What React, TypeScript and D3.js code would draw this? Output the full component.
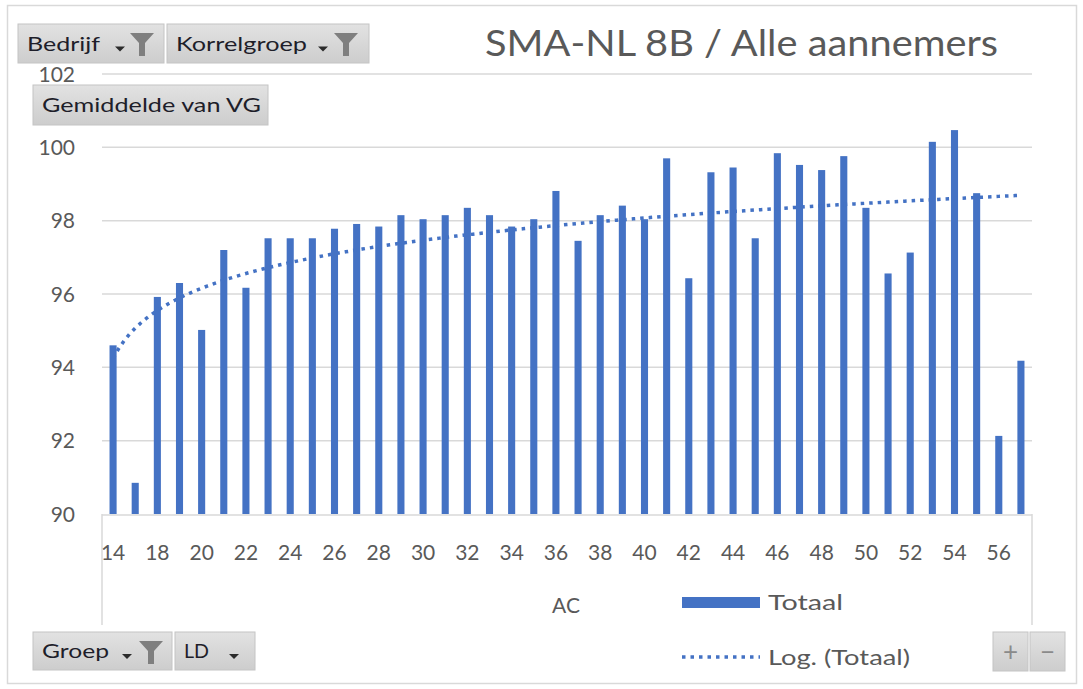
import React from "react";
import * as d3 from "d3";

const categories: string[] = [
  "14", "16", "18", "19", "20", "21", "22", "23", "24", "25", "26", "27", "28", "29",
  "30", "31", "32", "33", "34", "35", "36", "37", "38", "39", "40", "41", "42", "43",
  "44", "45", "46", "47", "48", "49", "50", "51", "52", "53", "54", "55", "56", "57",
];
const totaal: number[] = [
  94.6, 90.85, 95.92, 96.3, 95.02, 97.2, 96.17, 97.52, 97.52, 97.52, 97.78, 97.91, 97.84, 98.15,
  98.04, 98.15, 98.35, 98.15, 97.84, 98.04, 98.81, 97.45, 98.15, 98.41, 98.04, 99.7, 96.43, 99.32,
  99.45, 97.52, 99.84, 99.52, 99.38, 99.76, 98.35, 96.56, 97.13, 100.15, 100.47, 98.75, 92.13, 94.18,
];
const yTicks: number[] = [90, 92, 94, 96, 98, 100, 102];
const title = "SMA-NL 8B / Alle aannemers";
const axisTitle = "AC";
const legendBar = "Totaal";
const legendTrend = "Log. (Totaal)";

const FONT = "Lato, 'Liberation Sans', sans-serif";
const BLUE = "#4472C4";
const GRID = "#d9d9d9";
const TXT = "#595959";

function logFit(vals: number[]) {
  const xs = vals.map((_, i) => Math.log(i + 1));
  const mx = d3.mean(xs) as number;
  const my = d3.mean(vals) as number;
  let num = 0, den = 0;
  xs.forEach((x, i) => { num += (x - mx) * (vals[i] - my); den += (x - mx) * (x - mx); });
  const a = num / den;
  const b = my - a * mx;
  return (k: number) => a * Math.log(k) + b;
}

function Button({ x, y, w, h, label, textW, arrow, funnel }: any) {
  return (
    <g>
      <rect x={x} y={y} width={w} height={h} fill="url(#btnGrad)" stroke="#c4c4c4" strokeWidth={1} />
      <text x={x + 9} y={y + h / 2} dy="0.36em" fontSize={20} fill="#1e1e2a" fontFamily={FONT}
        textLength={textW} lengthAdjust="spacingAndGlyphs">{label}</text>
      {arrow !== undefined && (
        <path d={`M${arrow},${y + h / 2 + 3} h10 l-5,5 z`} fill="#2b2b2b" />
      )}
      {funnel !== undefined && (
        <path d={`M${funnel},${y + 9} h24 l-9,10 v13 h-6 v-13 z`} fill="#7f7f7f" />
      )}
    </g>
  );
}

export default function App() {
  const left = 102, right = 1032, top = 74, bottom = 514;
  const x = d3.scaleBand<string>().domain(categories).range([left, right]).paddingInner(0.68).paddingOuter(0.34);
  const y = d3.scaleLinear().domain([90, 102]).range([bottom, top]);
  const fit = logFit(totaal);
  const step = x.step();
  const xc = (k: number) => (x(categories[0]) as number) + x.bandwidth() / 2 + (k - 1) * step;
  const trendPts: [number, number][] = d3.range(1, categories.length + 0.001, 0.25).map((k) => [xc(k), y(fit(k))]);
  const line = d3.line<[number, number]>().x((d) => d[0]).y((d) => d[1]).curve(d3.curveLinear);

  return (
    <svg width={1083} height={689} style={{ position: "absolute", left: 0, top: 0, background: "#fff" }}>
      <defs>
        <linearGradient id="btnGrad" x1="0" y1="0" x2="0" y2="1">
          <stop offset="0" stopColor="#e2e2e2" />
          <stop offset="1" stopColor="#cdcdcd" />
        </linearGradient>
      </defs>
      <rect x={0} y={0} width={1083} height={689} fill="#fff" />
      <rect x={7.5} y={5.5} width={1069} height={678} fill="none" stroke={GRID} strokeWidth={1.5} />

      {/* gridlines */}
      {yTicks.filter((t) => t > 90).map((t) => (
        <line key={t} x1={left} x2={right} y1={y(t)} y2={y(t)} stroke={GRID} strokeWidth={1.5} />
      ))}
      {/* y tick labels */}
      {yTicks.map((t) => (
        <text key={t} x={75} y={y(t)} dy="0.36em" textAnchor="end" fontSize={21} fill={TXT} fontFamily={FONT}>{t}</text>
      ))}

      {/* bars */}
      {categories.map((c, i) => (
        <rect key={c} x={x(c)} y={y(totaal[i])} width={x.bandwidth()} height={y(90) - y(totaal[i])} fill={BLUE} />
      ))}

      {/* axis box */}
      <line x1={left} x2={right} y1={bottom + 1} y2={bottom + 1} stroke={GRID} strokeWidth={1.5} />
      <line x1={left} x2={left} y1={bottom} y2={625} stroke={GRID} strokeWidth={1.5} />
      <line x1={right} x2={right} y1={bottom} y2={625} stroke={GRID} strokeWidth={1.5} />

      {/* trendline */}
      <path d={line(trendPts) as string} fill="none" stroke={BLUE} strokeWidth={3.5} strokeDasharray="3.5 5" />

      {/* x tick labels */}
      {categories.map((c, i) => (i % 2 === 0 ? (
        <text key={c} x={(x(c) as number) + x.bandwidth() / 2} y={552} dy="0.36em" textAnchor="middle" fontSize={21} fill={TXT} fontFamily={FONT}>{c}</text>
      ) : null))}

      {/* axis title */}
      <text x={566} y={605} dy="0.36em" textAnchor="middle" fontSize={21} fill={TXT} fontFamily={FONT}>{axisTitle}</text>

      {/* title */}
      <text x={485} y={56} fontSize={37} fill={TXT} fontFamily={FONT} textLength={513} lengthAdjust="spacingAndGlyphs">{title}</text>

      {/* legend */}
      <rect x={682} y={597} width={78} height={11} fill={BLUE} />
      <text x={768} y={602} dy="0.36em" fontSize={21} fill={TXT} fontFamily={FONT} textLength={75} lengthAdjust="spacingAndGlyphs">{legendBar}</text>
      <line x1={682} x2={760} y1={657} y2={657} stroke={BLUE} strokeWidth={3.5} strokeDasharray="3.5 5" />
      <text x={768} y={657} dy="0.36em" fontSize={21} fill={TXT} fontFamily={FONT} textLength={142} lengthAdjust="spacingAndGlyphs">{legendTrend}</text>

      {/* field buttons */}
      <Button x={18} y={24} w={146} h={39} label="Bedrijf" textW={73} arrow={115} funnel={130} />
      <Button x={167} y={24} w={202} h={39} label="Korrelgroep" textW={131} arrow={318} funnel={334} />
      <Button x={33} y={85} w={235} h={40} label="Gemiddelde van VG" textW={219} />
      <Button x={33} y={632} w={139} h={38} label="Groep" textW={67} arrow={122} funnel={139} />
      <Button x={175} y={632} w={80} h={38} label="LD" textW={25} arrow={229} />

      {/* +/- buttons */}
      <rect x={993} y={632} width={35} height={39} fill="url(#btnGrad)" stroke="#c4c4c4" />
      <text x={1010.5} y={651.5} dy="0.36em" textAnchor="middle" fontSize={26} fill="#8a8a8a" fontFamily={FONT}>+</text>
      <rect x={1030} y={632} width={35} height={39} fill="url(#btnGrad)" stroke="#c4c4c4" />
      <text x={1047.5} y={651.5} dy="0.36em" textAnchor="middle" fontSize={26} fill="#8a8a8a" fontFamily={FONT}>−</text>
    </svg>
  );
}
